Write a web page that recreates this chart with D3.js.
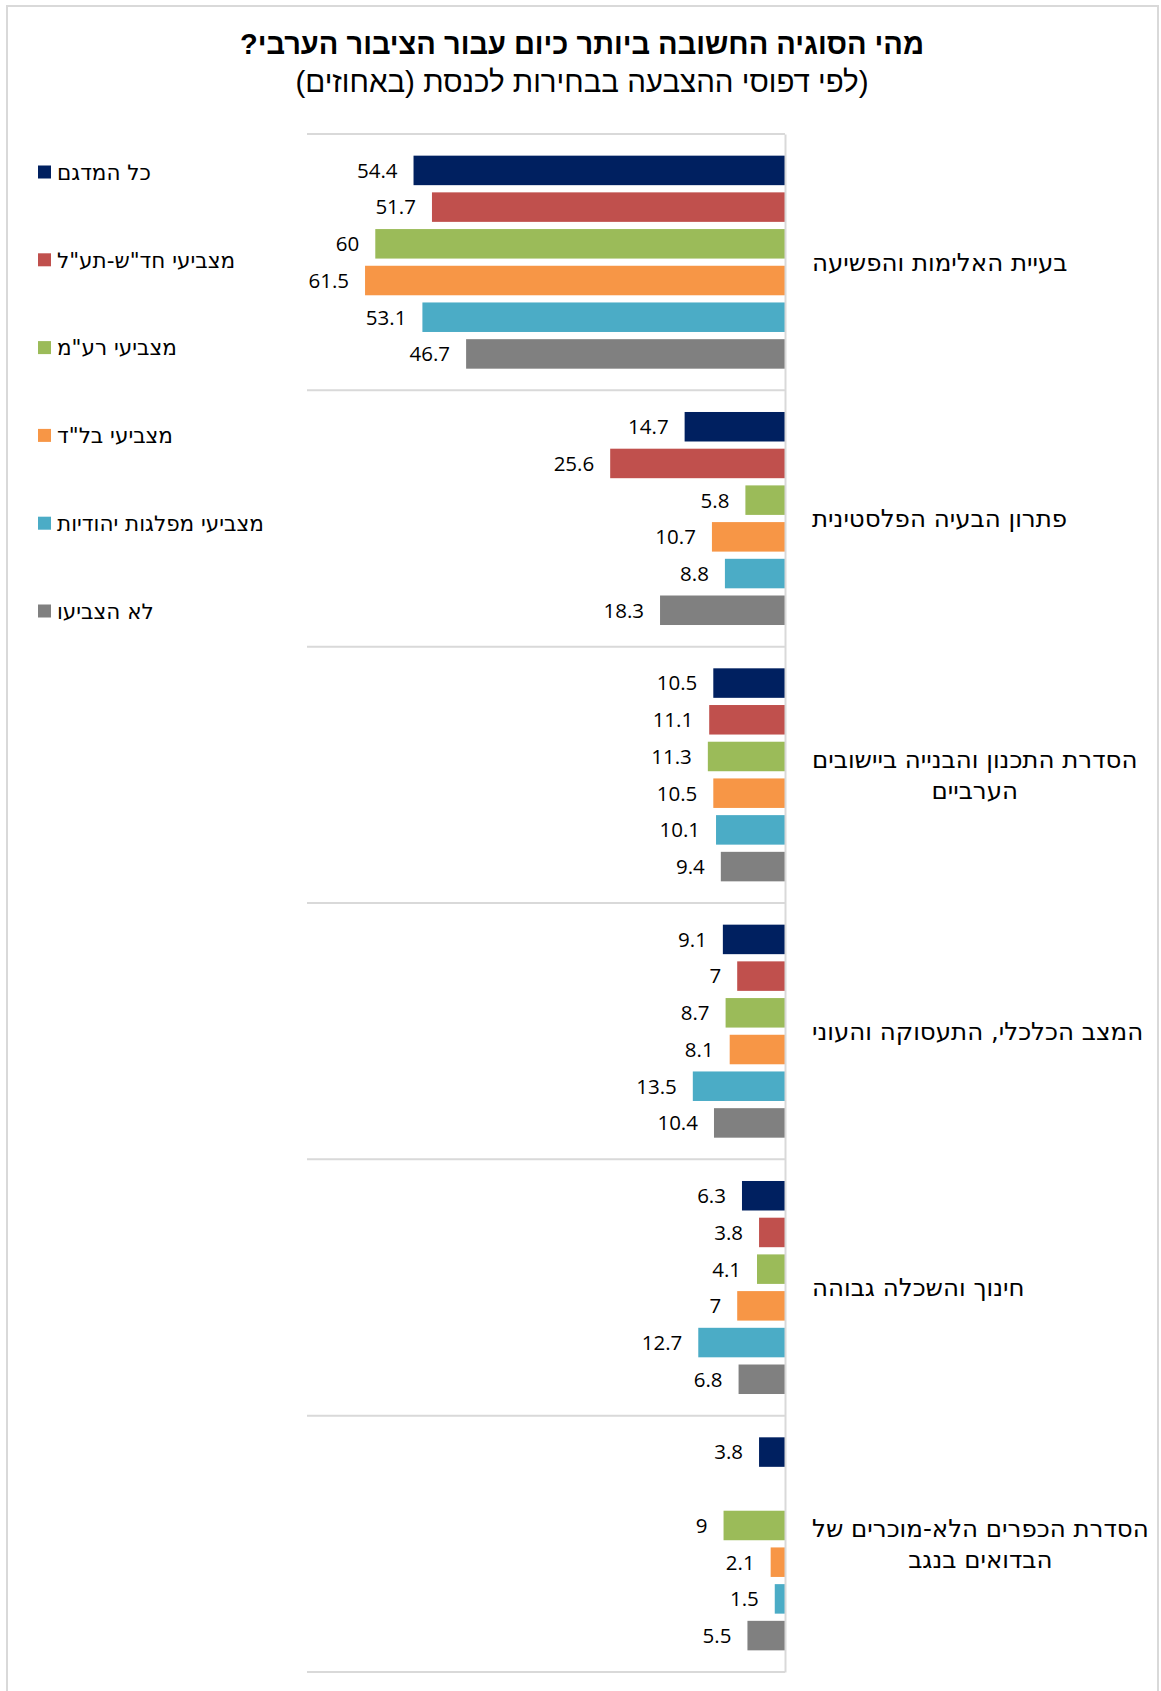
<!DOCTYPE html>
<html lang="he">
<head>
<meta charset="utf-8">
<script src="https://cdn.jsdelivr.net/npm/d3@7"></script>
<style>
  html, body { margin: 0; padding: 0; background: #fff; }
  svg { display: block; }
</style>
</head>
<body>
<svg id="chart" width="1161" height="1691"></svg>
<script>
const titleText = "מהי הסוגיה החשובה ביותר כיום עבור הציבור הערבי?";
const subtitleText = "(לפי דפוסי ההצבעה בבחירות לכנסת (באחוזים)";

const categories = [
  "בעיית האלימות והפשיעה",
  "פתרון הבעיה הפלסטינית",
  "הסדרת התכנון והבנייה ביישובים הערביים",
  "המצב הכלכלי, התעסוקה והעוני",
  "חינוך והשכלה גבוהה",
  "הסדרת הכפרים הלא-מוכרים של הבדואים בנגב"
];

const seriesNames = [
  "כל המדגם",
  "מצביעי חד\"ש-תע\"ל",
  "מצביעי רע\"מ",
  "מצביעי בל\"ד",
  "מצביעי מפלגות יהודיות",
  "לא הצביעו"
];

const seriesColors = ["#002060", "#C0504D", "#9BBB59", "#F79646", "#4BACC6", "#808080"];

const allSample   = [54.4, 14.7, 10.5, 9.1, 6.3, 3.8];
const hadashTaal  = [51.7, 25.6, 11.1, 7, 3.8, null];
const raam        = [60, 5.8, 11.3, 8.7, 4.1, 9];
const balad       = [61.5, 10.7, 10.5, 8.1, 7, 2.1];
const jewishParties = [53.1, 8.8, 10.1, 13.5, 12.7, 1.5];
const didNotVote  = [46.7, 18.3, 9.4, 10.4, 6.8, 5.5];

const seriesValues = [allSample, hadashTaal, raam, balad, jewishParties, didNotVote];

const xDomainMax = 70;

// ---------- layout ----------
const svg = d3.select("#chart");
const plotLeft = 307, plotRight = 785, plotTop = 134, plotBottom = 1672;
const gridColor = "#d9d9d9";

// outer border
svg.append("rect")
  .attr("x", 7).attr("y", 6)
  .attr("width", 1151).attr("height", 1720)
  .attr("fill", "none").attr("stroke", gridColor).attr("stroke-width", 2);

// title
svg.append("text")
  .attr("x", 582).attr("y", 54)
  .attr("text-anchor", "middle")
  .attr("direction", "rtl")
  .style("font-family", "'Liberation Sans', Arial, sans-serif")
  .style("font-weight", "bold")
  .style("font-size", "29px")
  .attr("fill", "#000")
  .text(titleText);

svg.append("text")
  .attr("x", 582).attr("y", 92)
  .attr("text-anchor", "middle")
  .attr("direction", "rtl")
  .style("font-family", "'Liberation Sans', Arial, sans-serif")
  .style("font-size", "29.5px")
  .attr("fill", "#000")
  .text(subtitleText);

// scales
const y = d3.scaleBand().domain(categories).range([plotTop, plotBottom]).padding(0);
const yInner = d3.scaleBand().domain(seriesNames).range([0, y.bandwidth()])
  .paddingInner(0.196).paddingOuter(0.59);
const x = d3.scaleLinear().domain([0, xDomainMax]).range([plotRight, plotLeft]);

// gridlines (category separators)
const boundaries = categories.map(c => y(c)).concat([y(categories[categories.length - 1]) + y.bandwidth()]);
svg.append("g").selectAll("line").data(boundaries).join("line")
  .attr("x1", plotLeft).attr("x2", plotRight)
  .attr("y1", d => d).attr("y2", d => d)
  .attr("stroke", gridColor).attr("stroke-width", 2);

// bars
const flat = [];
categories.forEach((c, ci) => {
  seriesNames.forEach((s, si) => {
    const v = seriesValues[si][ci];
    if (v !== null && v !== undefined) flat.push({ c, s, si, v });
  });
});

svg.append("g").selectAll("rect").data(flat).join("rect")
  .attr("x", d => x(d.v))
  .attr("y", d => y(d.c) + yInner(d.s))
  .attr("width", d => x(0) - x(d.v))
  .attr("height", yInner.bandwidth())
  .attr("fill", d => seriesColors[d.si]);

// value labels
svg.append("g").selectAll("text").data(flat).join("text")
  .attr("x", d => x(d.v) - 16)
  .attr("y", d => y(d.c) + yInner(d.s) + yInner.bandwidth() / 2)
  .attr("dy", "0.36em")
  .attr("text-anchor", "end")
  .style("font-family", "'Open Sans', sans-serif")
  .style("font-size", "20.5px")
  .attr("fill", "#000")
  .text(d => d.v);

// vertical axis line (right)
const axisG = svg.append("g").attr("transform", `translate(${plotRight},0)`)
  .call(d3.axisRight(y).tickSize(0).tickFormat(""));
axisG.select(".domain").attr("stroke", gridColor).attr("stroke-width", 2);

// category labels (wrapped, block left-aligned, lines centered)
const catFont = "'DejaVu Sans', sans-serif";
const catSize = 24.5;
const maxLabelW = 345;
const labelLeft = 812;
const lineH = 31;

const measurer = svg.append("text")
  .style("font-family", catFont).style("font-size", catSize + "px")
  .attr("direction", "rtl").attr("visibility", "hidden");
function textW(t) { measurer.text(t); return measurer.node().getComputedTextLength(); }

categories.forEach(c => {
  const words = c.split(" ");
  const lines = [];
  let cur = "";
  words.forEach(w => {
    const test = cur ? cur + " " + w : w;
    if (textW(test) > maxLabelW && cur) { lines.push(cur); cur = w; }
    else cur = test;
  });
  if (cur) lines.push(cur);
  const blockW = d3.max(lines, l => textW(l));
  const cy = y(c) + y.bandwidth() / 2;
  const t = svg.append("text")
    .attr("text-anchor", "middle")
    .attr("direction", "rtl")
    .style("font-family", catFont)
    .style("font-size", catSize + "px")
    .attr("fill", "#000");
  lines.forEach((l, i) => {
    t.append("tspan")
      .attr("x", labelLeft + blockW / 2)
      .attr("y", cy + (i - (lines.length - 1) / 2) * lineH)
      .attr("dy", "0.36em")
      .text(l);
  });
});
measurer.remove();

// legend
const legend = svg.append("g");
const legendY = d3.scalePoint().domain(seriesNames).range([172, 611]);
seriesNames.forEach((s, i) => {
  const g = legend.append("g").attr("transform", `translate(38,${legendY(s)})`);
  g.append("rect").attr("x", 0).attr("y", -6.5).attr("width", 13).attr("height", 13)
    .attr("fill", seriesColors[i]);
  g.append("text")
    .attr("x", 19).attr("y", 0).attr("dy", "0.36em")
    .attr("direction", "rtl")
    .attr("text-anchor", "end")
    .style("font-family", catFont)
    .style("font-size", "21.5px")
    .attr("fill", "#000")
    .text(s);
});
</script>
</body>
</html>
